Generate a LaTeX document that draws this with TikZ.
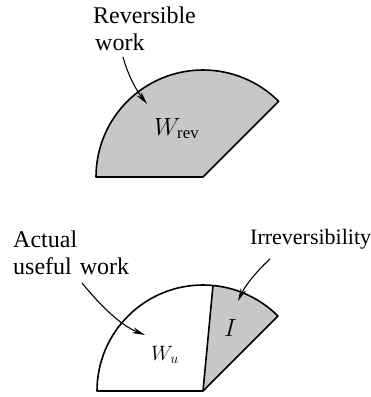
\documentclass[tikz,border=0pt]{standalone}
\usepackage{fontspec}
\setmainfont{Liberation Serif}
\usetikzlibrary{arrows.meta}
\begin{document}
\begin{tikzpicture}[x=1pt,y=-1pt,
  outline/.style={line width=1.6pt,line join=round},
  shade/.style={fill=black!22},
  lbl/.style={inner sep=0pt,align=left,font=\fontsize{24}{27}\selectfont},
  pointer/.style={line width=1.1pt,-{Stealth[length=13pt,width=6pt]}}]
\useasboundingbox (0,0) rectangle (371,397);
% top sector
\coordinate (tc) at (203,177);
\draw[outline,shade] (96,177) arc[start angle=180,end angle=315,radius=107] -- (tc) -- cycle;
\node[inner sep=0pt,anchor=base west,font=\fontsize{24}{28}\selectfont] (wrev) at (154,135) {$W_{\mathrm{rev}}$};
\node[lbl,anchor=base west] (rev) at (93,50) {Reversible\\\hspace*{2pt}work};
\coordinate (revstart) at (123,57);
\coordinate (revtip) at (147,104);
\draw[pointer] (revstart) .. controls (128,75) and (136,90) .. (revtip);
% bottom sector
\coordinate (bc) at (203,391);
\coordinate (div) at (213,285.5);
\fill[shade] (bc) -- (div) arc[start angle=275.4,end angle=315,radius=106] -- cycle;
\draw[outline] (97,391) arc[start angle=180,end angle=315,radius=106] -- (bc) -- cycle;
\draw[outline] (bc) -- (div);
\node[inner sep=0pt,anchor=base west,font=\fontsize{20}{24}\selectfont] (wu) at (151,360) {$W_u$};
\node[inner sep=0pt,anchor=base west,font=\fontsize{30}{34}\selectfont] (irr) at (224,336) {$I$};
\node[lbl,anchor=base west] (act) at (13,274) {Actual\\useful\hspace{2pt} work};
\node[inner sep=0pt,anchor=base west,font=\fontsize{22}{26}\selectfont] (irrl) at (250,244) {Irreversibility};
\coordinate (actstart) at (82,283);
\coordinate (acttip) at (145,335);
\coordinate (irrstart) at (270,259);
\coordinate (irrtip) at (238,301);
\draw[pointer] (actstart) .. controls (100,305) and (120,325) .. (acttip);
\draw[pointer] (irrstart) .. controls (258,270) and (246,284) .. (irrtip);
\end{tikzpicture}
\end{document}
